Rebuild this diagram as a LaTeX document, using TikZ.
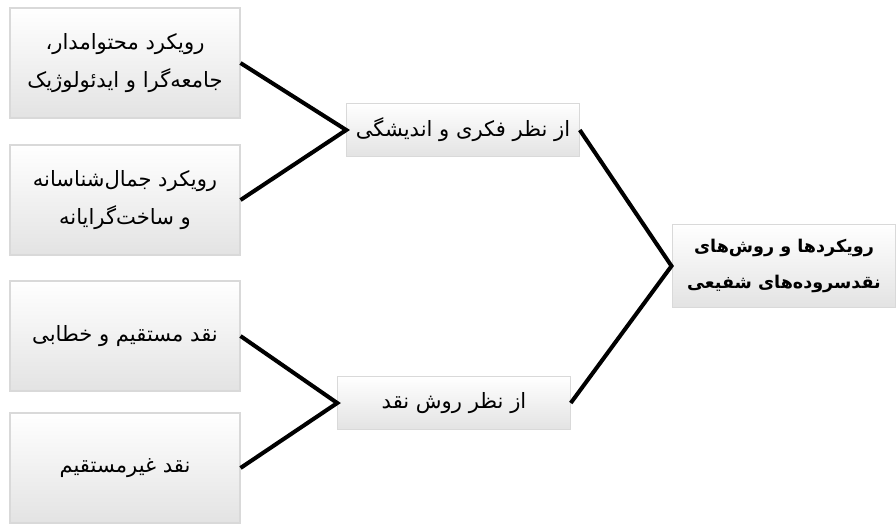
\documentclass[tikz,border=0pt]{standalone}
\usepackage{fontspec}
\newfontfamily\farsi[Script=Arabic]{DejaVu Sans}
\TeXXeTstate=1
\begin{document}
\begin{tikzpicture}[
        x=0.02cm, y=-0.02cm,
        font=\farsi\fontsize{12}{22}\selectfont,
        every node/.style={align=center},
        bevelbox/.style={draw=gray!30, line width=0.6pt, top color=white, bottom color=gray!22},
        leafbox/.style={bevelbox, minimum width=4.6cm, minimum height=2.2cm},
        midbox/.style={bevelbox, minimum width=4.65cm, minimum height=1.07cm},
        link/.style={line width=2.3pt}
    ]

        % --- Rahmen ---
        \useasboundingbox (0,0) rectangle (896,528);

        % --- Positionen ---
        \def\leafx{125}
        \def\mainx{784}

        % --- linke Spalte ---
        \node[leafbox] (content) at (\leafx, 63)
            {\beginR رویکرد محتوامدار،\endR\\ \beginR جامعه‌گرا و ایدئولوژیک\endR};
        \node[leafbox] (aesthetic) at (\leafx, 200)
            {\beginR رویکرد جمال‌شناسانه\endR\\ \beginR و ساخت‌گرایانه\endR};
        \node[leafbox] (direct) at (\leafx, 336)
            {\beginR نقد مستقیم و خطابی\endR};
        \node[leafbox] (indirect) at (\leafx, 468)
            {\beginR نقد غیرمستقیم\endR};

        % --- mittlere Spalte ---
        \node[midbox] (thought) at (463, 130)
            {\beginR از نظر فکری و اندیشگی\endR};
        \node[midbox] (method) at (454, 403)
            {\beginR از نظر روش نقد\endR};

        % --- Hauptknoten ---
        \node[bevelbox, minimum width=4.48cm, minimum height=1.66cm,
              font=\farsi\bfseries\fontsize{10}{20}\selectfont] (main) at (\mainx, 266)
            {\beginR رویکردها و روش‌های\endR\\ \beginR نقدسروده‌های شفیعی\endR};

        % --- Klammern ---
        \draw[link] (content.east) -- (thought.west) -- (aesthetic.east);
        \draw[link] (direct.east) -- (method.west) -- (indirect.east);
        \draw[link] (thought.east) -- (main.west) -- (method.east);

    \end{tikzpicture}
\end{document}
